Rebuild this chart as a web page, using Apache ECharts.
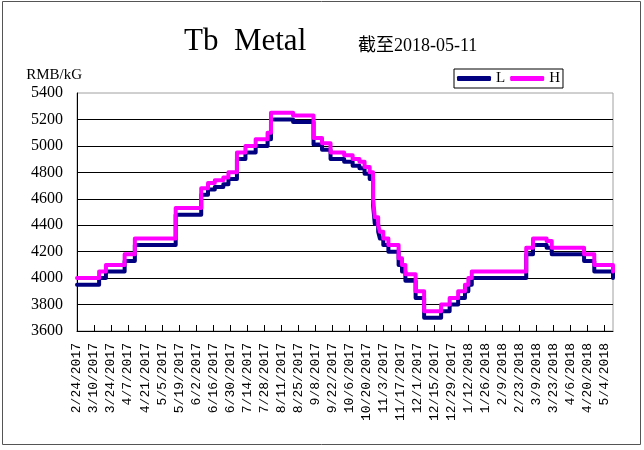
<!DOCTYPE html>
<html>
<head>
<meta charset="utf-8">
<script src="https://cdn.jsdelivr.net/npm/echarts@6/dist/echarts.min.js"></script>
<style>
html,body{margin:0;padding:0;background:#fff;}
#chart{width:644px;height:450px;}
</style>
</head>
<body>
<div id="chart"></div>
<script>
// Business-day categories from 2/24/2017 to 5/11/2018
const startDate = [2017, 2, 24];
const endDate = [2018, 5, 11];
const categories = (function () {
  const out = [];
  const d = new Date(Date.UTC(startDate[0], startDate[1] - 1, startDate[2]));
  const e = new Date(Date.UTC(endDate[0], endDate[1] - 1, endDate[2]));
  while (d <= e) {
    const wd = d.getUTCDay();
    if (wd !== 0 && wd !== 6) {
      out.push((d.getUTCMonth() + 1) + '/' + d.getUTCDate() + '/' + d.getUTCFullYear());
    }
    d.setUTCDate(d.getUTCDate() + 1);
  }
  return out;
})();

// Price change points (date, value); line held as steps
const hDates = ['2/24/2017','3/15/2017','3/21/2017','4/5/2017','4/13/2017','5/17/2017','6/7/2017','6/13/2017','6/19/2017','6/26/2017','6/29/2017','7/6/2017','7/13/2017','7/21/2017','8/1/2017','8/3/2017','8/22/2017','9/7/2017','9/14/2017','9/21/2017','10/3/2017','10/10/2017','10/16/2017','10/19/2017','10/24/2017','10/26/2017','10/27/2017','10/31/2017','11/1/2017','11/3/2017','11/8/2017','11/16/2017','11/20/2017','11/22/2017','11/30/2017','12/7/2017','12/21/2017','12/28/2017','1/4/2018','1/10/2018','1/12/2018','1/16/2018','3/1/2018','3/7/2018','3/19/2018','3/22/2018','4/18/2018','4/26/2018','5/11/2018'];
const hValues = [4000,4050,4100,4180,4300,4530,4680,4720,4740,4760,4800,4950,5000,5050,5100,5250,5230,5060,5020,4950,4930,4900,4880,4840,4800,4600,4460,4400,4350,4300,4250,4150,4100,4030,3900,3750,3800,3850,3900,3950,4000,4050,4230,4300,4280,4230,4180,4100,4050];

const lDates = hDates;
const lValues = [3950,4000,4050,4130,4250,4480,4630,4670,4690,4710,4750,4900,4950,5000,5050,5200,5180,5010,4970,4900,4880,4850,4830,4790,4750,4550,4410,4350,4300,4250,4200,4100,4050,3980,3850,3700,3750,3800,3850,3900,3950,4000,4180,4250,4230,4180,4130,4050,4000];

const yMin = 3600, yMax = 5400, yStep = 200;

function toPoints(dates, values) {
  return dates.map(function (d, i) { return [categories.indexOf(d), values[i]]; });
}

const chart = echarts.init(document.getElementById('chart'), null, {renderer: 'canvas'});
chart.setOption({
  animation: false,
  backgroundColor: '#ffffff',
  title: [
    {
      text: 'Tb  Metal', left: 184, top: 26, padding: 0,
      textStyle: {fontFamily: '"Liberation Serif"', fontSize: 31, fontWeight: 'normal', color: '#000'}
    },
    {
      text: '截至2018-05-11', left: 358, top: 37, padding: 0,
      textStyle: {fontFamily: '"Liberation Serif","Noto Sans CJK SC"', fontSize: 18, fontWeight: 'normal', color: '#000'}
    }
  ],
  legend: {
    left: 454, top: 69, padding: [2, 3], itemGap: 5, itemWidth: 34, itemHeight: 5,
    borderColor: '#000', borderWidth: 1, icon: 'roundRect',
    textStyle: {fontFamily: '"Liberation Serif"', fontSize: 15, color: '#000'},
    data: ['L', 'H']
  },
  grid: {left: 77, right: 31, top: 93, bottom: 119, show: true, borderColor: '#a0a0a0', borderWidth: 1},
  xAxis: {
    type: 'category', data: categories, boundaryGap: false,
    axisLine: {lineStyle: {color: '#000', width: 1}},
    axisTick: {inside: true, length: 6, interval: 9, lineStyle: {color: '#000'}},
    axisLabel: {interval: 9, rotate: 90, margin: 12, padding: [0, 0, 10, 0], fontFamily: '"Liberation Mono"', fontSize: 13, color: '#000'},
    splitLine: {show: false}
  },
  yAxis: {
    type: 'value', min: yMin, max: yMax, interval: yStep,
    name: 'RMB/kG', nameLocation: 'end', nameGap: 10,
    nameTextStyle: {fontFamily: '"Liberation Serif"', fontSize: 15, color: '#000', align: 'right', verticalAlign: 'bottom', padding: [0, -5, 0, 0]},
    axisLine: {show: true, lineStyle: {color: '#000', width: 1}},
    axisTick: {show: false},
    axisLabel: {margin: 14, fontFamily: '"Liberation Serif"', fontSize: 16, color: '#000', formatter: function (v) { return String(v); }},
    splitLine: {show: true, showMaxLine: false, lineStyle: {color: '#000', width: 1}}
  },
  series: [
    {
      name: 'L', type: 'line', step: 'end', showSymbol: false, symbol: 'none',
      data: toPoints(lDates, lValues),
      itemStyle: {color: '#000080'},
      lineStyle: {color: '#000080', width: 4, cap: 'round', join: 'round'}
    },
    {
      name: 'H', type: 'line', step: 'end', showSymbol: false, symbol: 'none',
      data: toPoints(hDates, hValues),
      itemStyle: {color: '#ff00ff'},
      lineStyle: {color: '#ff00ff', width: 4, cap: 'round', join: 'round'}
    }
  ],
  graphic: [
    {type: 'rect', silent: true, shape: {x: 2.5, y: 1.5, width: 638, height: 443}, style: {fill: null, stroke: '#555', lineWidth: 1}}
  ]
});
</script>
</body>
</html>
